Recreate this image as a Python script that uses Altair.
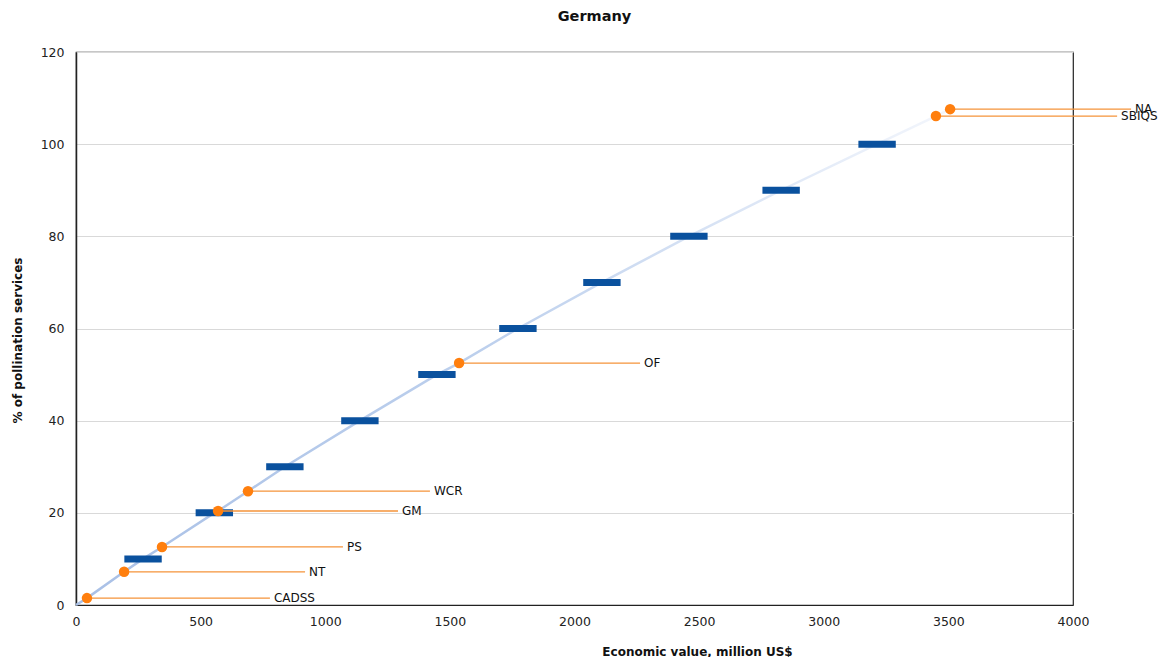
import altair as alt
import pandas as pd

# Orange labelled points
labels = ["CADSS", "NT", "PS", "GM", "WCR", "OF", "SBIQS", "NA"]
pt_x = [44, 193, 345, 570, 690, 1537, 3450, 3507]
pt_y = [1.5, 7.2, 12.6, 20.4, 24.7, 52.5, 106.1, 107.6]
lab_x = [778, 919, 1071, 1292, 1420, 2263, 4177, 4233]

# Blue decile markers
bar_pct = [10, 20, 30, 40, 50, 60, 70, 80, 90, 100]
bar_x = [269, 555, 838, 1139, 1448, 1773, 2110, 2459, 2829, 3214]
bar_half = 75

# Cumulative curve
curve_x = [0, 44, 193, 269, 345, 555, 570, 690, 838, 1139, 1448, 1537, 1773, 2110, 2459, 2829, 3214, 3450, 3507]
curve_y = [0, 1.5, 7.2, 10, 12.6, 20, 20.4, 24.7, 30, 40, 50, 52.5, 60, 70, 80, 90, 100, 106.1, 107.6]

FONT = "DejaVu Sans"

pts = pd.DataFrame({"label": labels, "x": pt_x, "y": pt_y, "lx": lab_x})
bars = pd.DataFrame({"pct": bar_pct, "x": bar_x})
curve = pd.DataFrame({"x": curve_x, "y": curve_y, "order": list(range(len(curve_x)))})

xscale = alt.Scale(domain=[0, 4000], nice=False)
yscale = alt.Scale(domain=[0, 120], nice=False)

xaxis = alt.Axis(
    values=[0, 500, 1000, 1500, 2000, 2500, 3000, 3500, 4000], format="d",
    grid=False, ticks=False, labelPadding=10, labelFontSize=12.5, labelFont=FONT,
    labelColor="#222", domainColor="#222", labelFlush=False,
    title="Economic value, million US$", titleFont=FONT, titleFontSize=12,
    titleFontWeight="bold", titleX=621, titleY=46, titleAlign="center",
    titleBaseline="middle", titleColor="#111",
)
yaxis = alt.Axis(
    values=[0, 20, 40, 60, 80, 100, 120], format="d",
    grid=True, gridColor="#d9d9d9", ticks=False, labelPadding=12,
    labelFontSize=12.5, labelFont=FONT, labelColor="#222", domainColor="#222",
    domainWidth=1.5,
    title="% of pollination services", titleFont=FONT, titleFontSize=12,
    titleFontWeight="bold", titleX=-59, titleY=288, titleAlign="center",
    titleBaseline="middle", titleAngle=-90, titleColor="#111",
)

base_x = alt.X("x:Q", scale=xscale, axis=xaxis)
base_y = alt.Y("y:Q", scale=yscale, axis=yaxis)

grad = alt.Gradient(
    gradient="linear",
    stops=[
        alt.GradientStop(color="#a9c0e6", offset=0),
        alt.GradientStop(color="#bdd0ed", offset=0.5),
        alt.GradientStop(color="#f3f6fc", offset=1),
    ],
    x1=0, y1=1, x2=1, y2=0,
)

line = alt.Chart(curve).mark_line(stroke=grad, strokeWidth=2.5).encode(
    x=base_x, y=base_y, order="order:Q"
)

bar_layer = alt.Chart(bars).transform_calculate(
    x1=f"datum.x - {bar_half}", x2=f"datum.x + {bar_half}"
).mark_rule(color="#0a519e", strokeWidth=7, strokeCap="butt").encode(
    x=alt.X("x1:Q", scale=xscale, axis=xaxis),
    x2="x2:Q",
    y=alt.Y("pct:Q", scale=yscale, axis=yaxis),
)

leaders = alt.Chart(pts).mark_rule(color="#f5933a", strokeWidth=1.3).encode(
    x=alt.X("x:Q", scale=xscale, axis=xaxis), x2="lx:Q", y=base_y
)

dots = alt.Chart(pts).mark_circle(color="#ff7f0e", opacity=1, size=110).encode(
    x=base_x, y=base_y
)

texts = alt.Chart(pts).mark_text(
    align="left", baseline="middle", dx=4, font=FONT, fontSize=12, color="#111"
).encode(x=alt.X("lx:Q", scale=xscale, axis=xaxis), y=base_y, text="label:N")

chart = alt.layer(line, bar_layer, leaders, dots, texts).properties(
    width=997, height=553,
    title=alt.TitleParams("Germany", font=FONT, fontSize=14.5, fontWeight="bold",
                          anchor="middle", dx=20, offset=22, color="#111"),
    autosize=alt.AutoSizeParams(type="none"),
    padding={"left": 68, "top": 44, "right": 86, "bottom": 52},
).configure_view(stroke="#222", strokeWidth=1.2)

chart.save("out.html", embed_options={"renderer": "svg", "actions": False})
